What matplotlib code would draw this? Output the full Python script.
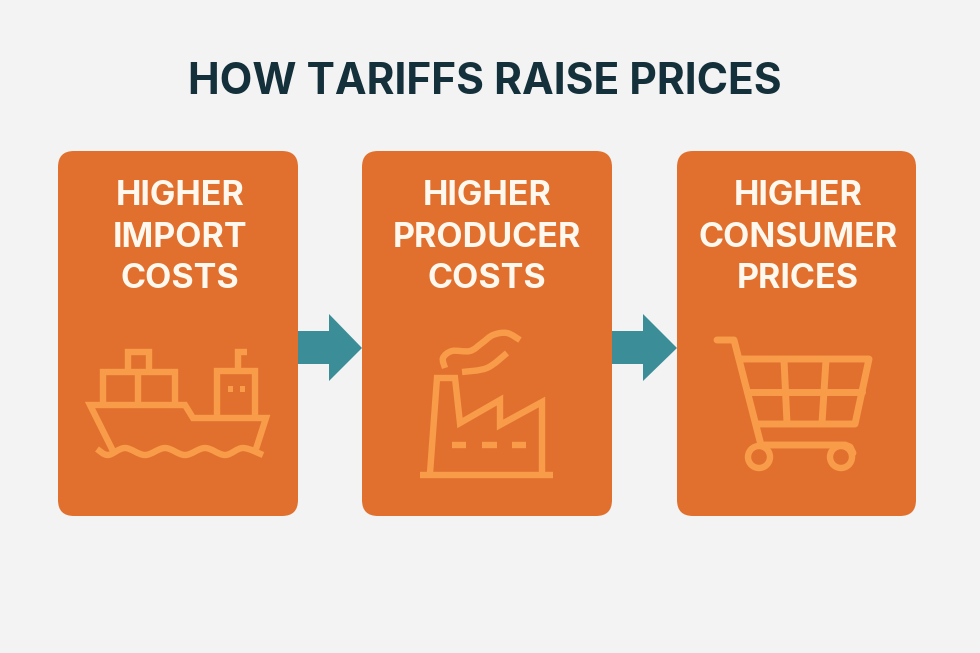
#!/usr/bin/env python3
import numpy as np
import matplotlib
matplotlib.use('Agg')
import matplotlib.pyplot as plt
from matplotlib.patches import FancyBboxPatch, Polygon, Circle, PathPatch, Rectangle
from matplotlib.path import Path

######################
# text and colours
######################
title = 'HOW TARIFFS RAISE PRICES'
box_labels = [['HIGHER', 'IMPORT', 'COSTS'],
              ['HIGHER', 'PRODUCER', 'COSTS'],
              ['HIGHER', 'CONSUMER', 'PRICES']]
label_centers = [180, 487, 798]
label_rows = [205, 247, 288]

boxes = [(58, 298), (362, 612), (677, 916)]
box_top, box_bottom = 151, 516
arrows = [(298, 329, 362), (612, 643, 677)]

bg_col = '#F4F3F4'
box_col = '#E1702E'
icon_col = '#F89C4A'
arrow_col = '#3B8E97'
title_col = '#14303A'
text_col = '#FFF8EE'

# icon outlines, picture pixels
ship_lines = [
    [(113, 451), (90, 405), (185, 405), (193, 418), (266, 418), (256, 449)],
    [(103, 403), (103, 372), (175, 372), (175, 403)],
    [(138, 372), (138, 403)],
    [(128, 372), (128, 352), (149, 352), (149, 372)],
    [(217, 417), (217, 371), (255, 371), (255, 417)],
    [(238, 371), (238, 352), (247, 352)],
]
ship_waves = [(97, 449), (108, 455), (125, 448), (145, 455), (165, 448),
              (185, 455), (205, 448), (225, 455), (243, 448), (263, 455)]
ship_windows = [(230, 389), (242, 389)]

factory_lines = [
    [(420, 475), (553, 475)],
    [(430, 473), (437, 378), (455, 378), (460, 423), (500, 400),
     (500, 425), (542, 402), (542, 473)],
    [(452, 445), (466, 445)],
    [(482, 445), (497, 445)],
    [(512, 445), (526, 445)],
]
factory_smoke = [
    [(445, 368), (443, 358), (452, 351), (470, 351), (482, 343), (493, 335), (507, 333), (520, 340)],
    [(462, 372), (487, 368), (507, 353)],
]

cart_lines = [
    [(717, 340), (734, 340), (761, 445), (845, 445), (850, 447), (853, 453)],
    [(742, 359), (869, 359), (855, 424), (758, 424)],
    [(748, 392), (862, 392)],
    [(784, 360), (787, 423)],
    [(826, 360), (822, 423)],
]
cart_wheels = [(759, 457), (841, 457)]


def smooth(pts):
    # catmull-rom through the points, as bezier segments
    pts = [np.array(p, float) for p in pts]
    verts = [pts[0]]
    codes = [Path.MOVETO]
    for i in range(len(pts) - 1):
        p0 = pts[max(i - 1, 0)]
        p1 = pts[i]
        p2 = pts[i + 1]
        p3 = pts[min(i + 2, len(pts) - 1)]
        verts += [p1 + (p2 - p0) / 6, p2 - (p3 - p1) / 6, p2]
        codes += [Path.CURVE4] * 3
    return Path(verts, codes)


def draw_line(ax, pts, lw=4.6, cap='butt', join='miter'):
    x, y = zip(*pts)
    ax.plot(x, y, color=icon_col, lw=lw, solid_capstyle=cap, solid_joinstyle=join)


def draw_curve(ax, pts, lw=4.6):
    ax.add_patch(PathPatch(smooth(pts), fc='none', ec=icon_col, lw=lw, capstyle='butt'))


fig = plt.figure(figsize=(9.8, 6.53), dpi=100, facecolor=bg_col)
ax = fig.add_axes([0, 0, 1, 1])
ax.set_xlim(0, 980)
ax.set_ylim(653, 0)
ax.axis('off')

ax.text(485, 93.5, title, ha='center', va='baseline', fontsize=30.6,
        fontweight='bold', family='Inter', color=title_col)

for (x0, x1) in boxes:
    r = 16
    ax.add_patch(FancyBboxPatch((x0 + r, box_top + r), x1 - x0 - 2 * r, box_bottom - box_top - 2 * r,
                                boxstyle='round,pad=%d,rounding_size=%d' % (r, r),
                                fc=box_col, ec='none'))

for (x0, xm, xt) in arrows:
    ax.add_patch(Polygon([(x0, 331), (xm, 331), (xm, 314), (xt, 348),
                          (xm, 381), (xm, 364), (x0, 364)], fc=arrow_col, ec='none'))

for cx, rows in zip(label_centers, box_labels):
    for y, s in zip(label_rows, rows):
        ax.text(cx, y, s, ha='center', va='baseline', fontsize=24.5, fontweight='bold',
                family='Inter', color=text_col)

# ship
for pts in ship_lines:
    draw_line(ax, pts)
draw_curve(ax, ship_waves)
for (x, y) in ship_windows:
    ax.add_patch(Rectangle((x - 2.5, y - 3), 5, 6, fc=icon_col, ec='none'))

# factory
for pts in factory_lines:
    draw_line(ax, pts)
for pts in factory_smoke:
    draw_curve(ax, pts)

# cart
for pts in cart_lines:
    draw_line(ax, pts, lw=5, cap='round', join='round')
for (x, y) in cart_wheels:
    ax.add_patch(Circle((x, y), 11, fc='none', ec=icon_col, lw=4.6))

fig.savefig('out.png', dpi=100, facecolor=bg_col)
